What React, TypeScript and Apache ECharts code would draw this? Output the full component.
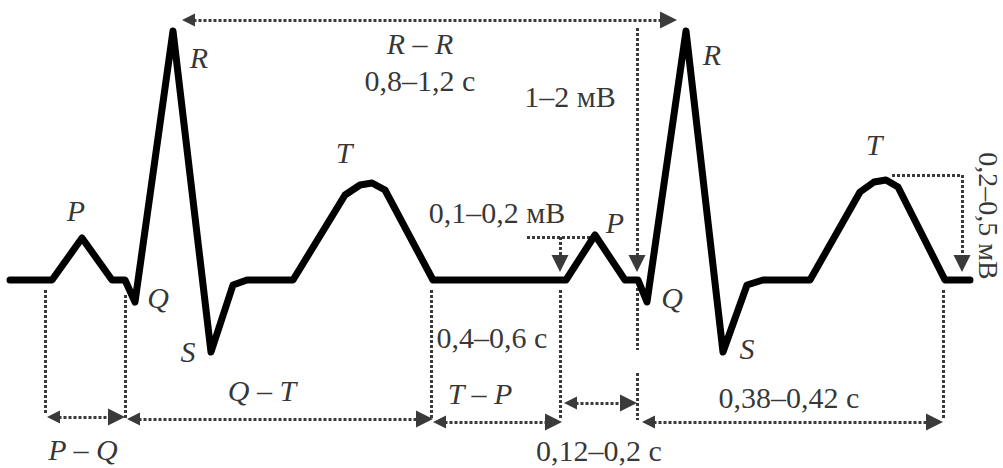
import { useEffect, useRef } from "react";
import * as echarts from "echarts";

// ECG trace: schematic time (x) and amplitude (y, baseline = 0)
const ecgTime = [10, 52, 82, 112, 125, 135, 173, 211, 233, 247, 293, 345, 360, 372, 385, 433, 566, 595, 625, 638, 647, 686, 723, 747, 763, 810, 860, 874, 886, 898, 945, 970];
const ecgAmp = [0, 0, 42, 0, 0, -22, 249, -72, -5, 0, 0, 85, 95, 97, 90, 0, 0, 45, 0, 0, -22, 249, -72, -5, 0, 0, 88, 98, 100, 93, 0, 0];

// Interval arrows (double-headed, horizontal)
const spanStart = [180, 45, 125, 431, 562, 640];
const spanEnd = [677, 125, 433, 562, 637, 943];
const spanLevel = [260, -137, -139, -142, -123, -142];

// Amplitude arrows (vertical, head at bottom)
const ampArrowX = [637, 560, 962];
const ampArrowTop = [252, 43, 105];
const ampArrowTip = [8, 8, 8];

// Plain dotted guides: [x1, y1, x2, y2]
const guideX1 = [527, 892, 45, 125, 431, 560, 637, 637, 943];
const guideY1 = [43, 105, -10, -15, -10, -10, -8, -93, -10];
const guideX2 = [590, 962, 45, 125, 431, 560, 637, 637, 943];
const guideY2 = [43, 105, -135, -138, -140, -140, -70, -140, -138];

// Wave letters
const letterText = ["P", "R", "Q", "S", "T", "P", "R", "Q", "S", "T"];
const letterX = [76, 199, 158, 188, 344, 615, 712, 672, 747, 874];
const letterY = [70, 223, -17, -71, 128, 58, 226, -17, -68, 136];

// Interval notes
const noteText = ["R – R", "0,8–1,2 с", "1–2 мВ", "0,1–0,2 мВ", "0,4–0,6 с", "Q – T", "P – Q", "T – P", "0,12–0,2 с", "0,38–0,42 с"];
const noteItalic = [true, false, false, false, false, true, true, true, false, false];
const noteX = [420, 420, 570, 497, 492, 262, 83, 480, 599, 789];
const noteY = [237, 200, 184, 68, -57, -110, -169, -113, -170, -117];

const sideNote = "0,2–0,5 мВ";
const sideNoteX = 988;
const sideNoteY = 64;

const FONT = '"Liberation Serif", "Times New Roman", serif';
const HEAD_LEN = 17;
const HEAD_W = 13;
const DOT_COLOR = "#3a3a3a";

export default function App() {
  const ref = useRef<HTMLDivElement>(null);

  useEffect(() => {
    if (!ref.current) return;
    const chart = echarts.init(ref.current, null, { renderer: "svg" });
    const h = HEAD_LEN / 2;

    const spanData = spanStart.map((s, i) => ({
      coords: [
        [s + h, spanLevel[i]],
        [spanEnd[i] - h, spanLevel[i]],
      ],
    }));
    const ampData = ampArrowX.map((x, i) => ({
      coords: [
        [x, ampArrowTop[i]],
        [x, ampArrowTip[i] + h],
      ],
    }));
    const guideData = guideX1.map((x, i) => ({
      coords: [
        [x, guideY1[i]],
        [guideX2[i], guideY2[i]],
      ],
    }));

    const dotted = { color: DOT_COLOR, width: 3, type: [3, 2] as any, opacity: 1 };

    chart.setOption({
      animation: false,
      backgroundColor: "#ffffff",
      grid: { left: 0, right: 0, top: 0, bottom: 0 },
      xAxis: { type: "value", min: 0, max: 1003, show: false },
      yAxis: { type: "value", min: -188, max: 280, show: false },
      series: [
        {
          type: "lines",
          coordinateSystem: "cartesian2d",
          symbol: ["none", "none"],
          lineStyle: dotted,
          data: guideData,
          z: 1,
        },
        {
          type: "lines",
          coordinateSystem: "cartesian2d",
          symbol: ["triangle", "triangle"],
          symbolSize: [HEAD_W, HEAD_LEN],
          itemStyle: { color: "#111" },
          lineStyle: dotted,
          data: spanData,
          z: 2,
        },
        {
          type: "lines",
          coordinateSystem: "cartesian2d",
          symbol: ["none", "triangle"],
          symbolSize: [HEAD_W, HEAD_LEN],
          itemStyle: { color: "#111" },
          lineStyle: dotted,
          data: ampData,
          z: 2,
        },
        {
          type: "line",
          data: ecgTime.map((t, i) => [t, ecgAmp[i]]),
          symbol: "none",
          smooth: false,
          lineStyle: { color: "#000", width: 7, join: "round", cap: "round" },
          z: 5,
        },
        {
          type: "scatter",
          symbolSize: 1,
          itemStyle: { color: "rgba(0,0,0,0)" },
          label: {
            show: true,
            position: "inside",
            formatter: (p: any) => p.data.name,
            fontFamily: FONT,
            fontSize: 30,
            color: "#000",
            align: "center",
            verticalAlign: "middle",
          },
          data: [
            ...letterText.map((t, i) => ({
              name: t,
              value: [letterX[i], letterY[i]],
              label: { fontStyle: "italic" },
            })),
            ...noteText.map((t, i) => ({
              name: t,
              value: [noteX[i], noteY[i]],
              label: { fontStyle: noteItalic[i] ? "italic" : "normal" },
            })),
            {
              name: sideNote,
              value: [sideNoteX, sideNoteY],
              label: { rotate: -90, fontSize: 28 },
            },
          ],
          z: 6,
        },
      ],
    });

    return () => chart.dispose();
  }, []);

  return (
    <div
      ref={ref}
      style={{ position: "absolute", left: 0, top: 0, width: 1003, height: 468, background: "#fff" }}
    />
  );
}
